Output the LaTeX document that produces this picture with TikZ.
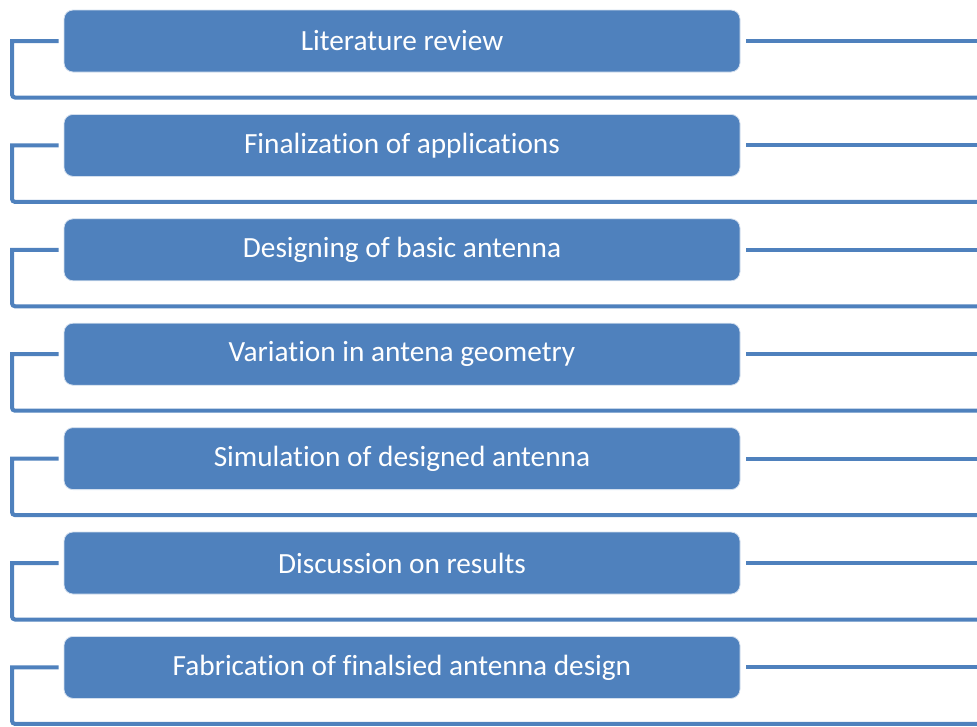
\documentclass[tikz,border=0pt]{standalone}
\usepackage{fontspec}
\setmainfont[Ligatures=NoCommon]{Carlito}
\definecolor{officeblue}{HTML}{4F81BD}
\begin{document}
\begin{tikzpicture}[x=1pt,y=-1pt,
  stepbox/.style={rectangle,rounded corners=9pt,fill=officeblue,draw=white!75!officeblue,line width=0.8pt,
    minimum width=676pt,minimum height=62pt,inner sep=0pt,text=white,font=\fontsize{29.3}{32}\selectfont},
  conn/.style={draw=officeblue,line width=4pt}]
\useasboundingbox (0,0) rectangle (977,726);
\foreach \i/\t in {1/Literature review,2/Finalization of applications,3/Designing of basic antenna,4/Variation in antena geometry,5/Simulation of designed antenna,6/Discussion on results,7/Fabrication of finalsied antenna design}{
  \pgfmathsetmacro{\yc}{41+104.4*(\i-1)}
  \node[stepbox] (b\i) at (402,\yc) {\t};
  \coordinate (e\i) at (977,\yc);
  \coordinate (r\i) at (977,\yc+56.5);
  \coordinate (k\i) at (12,\yc);
  \draw[conn] ([xshift=-5pt]b\i.west) -- (k\i) [rounded corners=3pt] |- (r\i);
  \draw[conn] ([xshift=6pt]b\i.east) -- (e\i);
}
\end{tikzpicture}
\end{document}
